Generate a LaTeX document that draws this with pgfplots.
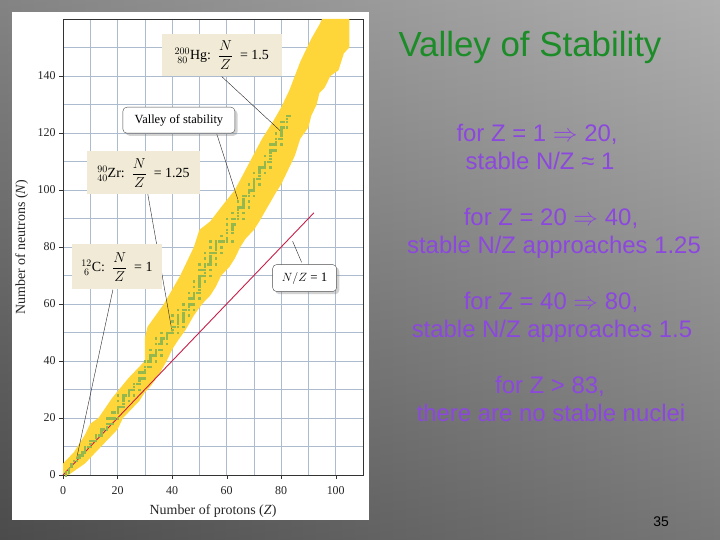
\documentclass[border=0pt]{standalone}
\usepackage{pgfplots}
\pgfplotsset{compat=1.18}
\usepackage{amsmath}
\usepackage{fontspec}
\setmainfont{Liberation Sans}
\newfontfamily\chartfont{Liberation Serif}
\usetikzlibrary{shadows}

\definecolor{bandyellow}{RGB}{255,214,58}
\definecolor{stablegreen}{RGB}{148,184,78}
\definecolor{nzred}{RGB}{200,30,72}
\definecolor{gridblue}{RGB}{172,187,205}
\definecolor{boxbeige}{RGB}{240,234,214}
\definecolor{titlegreen}{RGB}{28,140,40}
\definecolor{bodypurple}{RGB}{140,72,222}

\begin{document}
\begin{tikzpicture}[x=1bp,y=1bp]
% slide background
\shade[left color=black!62, middle color=black!16, right color=black!40] (0,0) rectangle (720,540);
\shade[top color=white, bottom color=black, opacity=0.22] (0,0) rectangle (720,540);
\fill[white] (12,20) rectangle (369,528);

\begin{axis}[
  at={(63bp,65bp)}, anchor=south west,
  scale only axis, width=300bp, height=456bp,
  xmin=0, xmax=110, ymin=0, ymax=160,
  clip=false,
  xtick={0,20,...,100}, ytick={0,20,...,140},
  minor xtick={10,30,...,110}, minor ytick={10,30,...,150},
  grid=both,
  grid style={gridblue, line width=0.6pt},
  minor grid style={gridblue, line width=0.6pt},
  axis line style={black!80, line width=0.8pt},
  tick align=outside, tick pos=left,
  major tick length=4bp, minor tick length=0pt,
  tick style={black!80},
  /pgf/number format/assume math mode=true,
  ticklabel style={font=\chartfont\fontsize{12}{12}\selectfont, text=black!85},
  xticklabel style={yshift=-4bp},
  xlabel={Number of protons (\textit{Z})},
  ylabel={Number of neutrons (\textit{N})},
  every axis x label/.style={at={(axis description cs:0.5,0)}, anchor=base, yshift=-40bp,
    font=\chartfont\fontsize{14}{14}\selectfont, text=black!85},
  every axis y label/.style={at={(axis description cs:0,0.5)}, anchor=base, rotate=90, yshift=38bp,
    font=\chartfont\fontsize{14}{14}\selectfont, text=black!85},
]
% band of known nuclei (outline)
\addplot[fill=bandyellow, draw=none] coordinates {
 (0,0)(0,4)(4,8)(8,14)(10,18)(13,20)(18,27)(24,34)(30,40)(30,48)(31,52)(37,60)
 (40,65)(43,70)(46,76)(48,80)(50,86)(54,89)(58,94)(63,100)(68,109)(73,118)
 (77,124)(80,129)(83,135)(85,140)(87,145)(91,153)(94,158)(95,160)(105,160)
 (105,150)(103,148)(101,142)(98,140)(96,136)(94,134)(93,130)(91,126)(90,122)
 (87,118)(85,112)(82,106)(80,102)(78,99)(75,94)(72,89)(70,86)(67,83)(65,80)
 (63,76)(61,73)(58,70)(56,66)(54,63)(51,60)(48,56)(45,51)(42,47)(40,44)(38,40)
 (35,35)(32,31)(30,29)(28,26)(24,22)(22,20)(20,16)(17,13)(14,10)(11,7)(8,4)
 (5,2)(2,0)
} -- cycle;
% stable nuclei
\addplot[only marks, mark=square*, mark size=0.75bp, stablegreen] coordinates {
 (1,0)(1,1)(2,1)(2,2)(3,3)(3,4)(4,5)(5,5)(5,6)(6,6)(6,7)(7,7)(7,8)
 (8,8)(8,9)(8,10)(9,10)(10,10)(10,11)(10,12)(11,12)(12,12)(12,13)(12,14)
 (13,14)(14,14)(14,15)(14,16)(15,16)(16,16)(16,17)(16,18)(16,20)(17,18)(17,20)
 (18,18)(18,20)(18,22)(19,20)(19,22)(20,20)(20,22)(20,23)(20,24)(20,26)(20,28)
 (21,24)(22,24)(22,25)(22,26)(22,27)(22,28)(23,28)(24,26)(24,28)(24,29)(24,30)
 (25,30)(26,28)(26,30)(26,31)(26,32)(27,32)(28,30)(28,32)(28,33)(28,34)(28,36)
 (29,34)(29,36)(30,34)(30,36)(30,37)(30,38)(30,40)(31,38)(31,40)
 (32,38)(32,40)(32,41)(32,42)(32,44)(33,42)(34,40)(34,42)(34,43)(34,44)(34,46)(34,48)
 (35,44)(35,46)(36,42)(36,44)(36,46)(36,47)(36,48)(36,50)(37,48)(38,46)(38,48)(38,49)(38,50)
 (39,50)(40,50)(40,51)(40,52)(40,54)(40,56)(41,52)(42,50)(42,52)(42,53)(42,54)(42,55)(42,56)(42,58)
 (44,52)(44,54)(44,55)(44,56)(44,57)(44,58)(44,60)(45,58)(46,56)(46,58)(46,59)(46,60)(46,62)(46,64)
 (47,60)(47,62)(48,58)(48,60)(48,62)(48,63)(48,64)(48,66)(48,68)(49,64)
 (50,62)(50,64)(50,65)(50,66)(50,67)(50,68)(50,69)(50,70)(50,72)(50,74)(51,70)(51,72)
 (52,68)(52,70)(52,71)(52,72)(52,73)(52,74)(52,76)(52,78)(53,74)
 (54,70)(54,72)(54,74)(54,75)(54,76)(54,77)(54,78)(54,80)(54,82)(55,78)
 (56,74)(56,76)(56,78)(56,79)(56,80)(56,81)(56,82)(57,82)(58,78)(58,80)(58,82)(58,84)(59,82)
 (60,82)(60,83)(60,85)(60,86)(60,88)(60,90)(62,82)(62,85)(62,86)(62,87)(62,88)(62,90)(62,92)
 (63,88)(63,90)(64,90)(64,91)(64,92)(64,93)(64,94)(64,96)(65,94)
 (66,90)(66,92)(66,94)(66,95)(66,96)(66,97)(66,98)(67,98)(68,94)(68,96)(68,98)(68,99)(68,100)(68,102)(69,100)
 (70,98)(70,100)(70,101)(70,102)(70,103)(70,104)(70,106)(71,104)
 (72,102)(72,104)(72,105)(72,106)(72,107)(72,108)(73,108)(74,106)(74,108)(74,109)(74,110)(74,112)(75,110)
 (76,108)(76,110)(76,111)(76,112)(76,113)(76,114)(76,116)(77,114)(77,116)
 (78,114)(78,116)(78,117)(78,118)(78,120)(79,118)
 (80,116)(80,118)(80,119)(80,120)(80,121)(80,122)(80,124)(81,122)(81,124)
 (82,122)(82,124)(82,125)(82,126)(83,126)
};
% N/Z = 1 line
\addplot[nzred, line width=0.9pt] coordinates {(0,0) (92,92)};

% pointer lines
\draw[black!85, line width=0.4pt] (axis cs:58.2,139.8) -- (axis cs:80.2,120.3);
\draw[black!85, line width=0.4pt] (axis cs:56.4,119.6) -- (axis cs:64.1,96.7);
\draw[black!85, line width=0.4pt] (axis cs:31.1,98.5) -- (axis cs:40,50.3);
\draw[black!85, line width=0.4pt] (axis cs:18.3,65) -- (axis cs:5.1,6.3);
\draw[black!85, line width=0.4pt] (axis cs:84.2,82) -- (axis cs:87.5,74.6);

% annotation boxes
\node[fill=boxbeige, minimum width=120bp, minimum height=42bp, inner sep=2bp,
  font=\chartfont\fontsize{14}{14}\selectfont]
  at (axis cs:58.2,147.4) {$^{200}_{\;80}$Hg:\ \ $\dfrac{N}{Z}$\ \ = 1.5};
\node[fill=white, draw=black!70, rounded corners=4bp, drop shadow={opacity=0.35},
  minimum width=112bp, minimum height=26bp, inner sep=2bp,
  font=\chartfont\fontsize{12.5}{12.5}\selectfont]
  at (axis cs:42.5,124.5) {Valley of stability};
\node[fill=boxbeige, minimum width=113bp, minimum height=43bp, inner sep=2bp,
  font=\chartfont\fontsize{14}{14}\selectfont]
  at (axis cs:29.5,106) {$^{90}_{40}$Zr:\ \ $\dfrac{N}{Z}$\ \ = 1.25};
\node[fill=boxbeige, minimum width=90bp, minimum height=45bp, inner sep=2bp,
  font=\chartfont\fontsize{14}{14}\selectfont]
  at (axis cs:19.8,73) {$^{12}_{\;6}$C:\ \ $\dfrac{N}{Z}$\ \ = 1};
\node[fill=white, draw=black!70, rounded corners=4bp, drop shadow={opacity=0.35},
  minimum width=64bp, minimum height=27bp, inner sep=2bp,
  font=\chartfont\fontsize{13}{13}\selectfont]
  at (axis cs:88.6,69.1) {$N/Z$ = 1};
\end{axis}

% slide text
\node[anchor=base, text=titlegreen, font=\fontsize{35}{40}\selectfont] at (530,483) {Valley of Stability};
\begin{scope}[every node/.style={anchor=base, text=bodypurple, font=\fontsize{24}{28}\selectfont}]
\node at (537,398) {for Z = 1 $\Rightarrow$ 20,};
\node at (540,370) {stable N/Z ≈ 1};
\node at (551,314) {for Z = 20 $\Rightarrow$ 40,};
\node at (554,286) {stable N/Z approaches 1.25};
\node at (551,230) {for Z = 40 $\Rightarrow$ 80,};
\node at (552,202) {stable N/Z approaches 1.5};
\node at (550,146) {for Z > 83,};
\node at (551,118) {there are no stable nuclei};
\end{scope}
\node[anchor=base, font=\fontsize{14}{16}\selectfont] at (661,13) {35};
\end{tikzpicture}
\end{document}
